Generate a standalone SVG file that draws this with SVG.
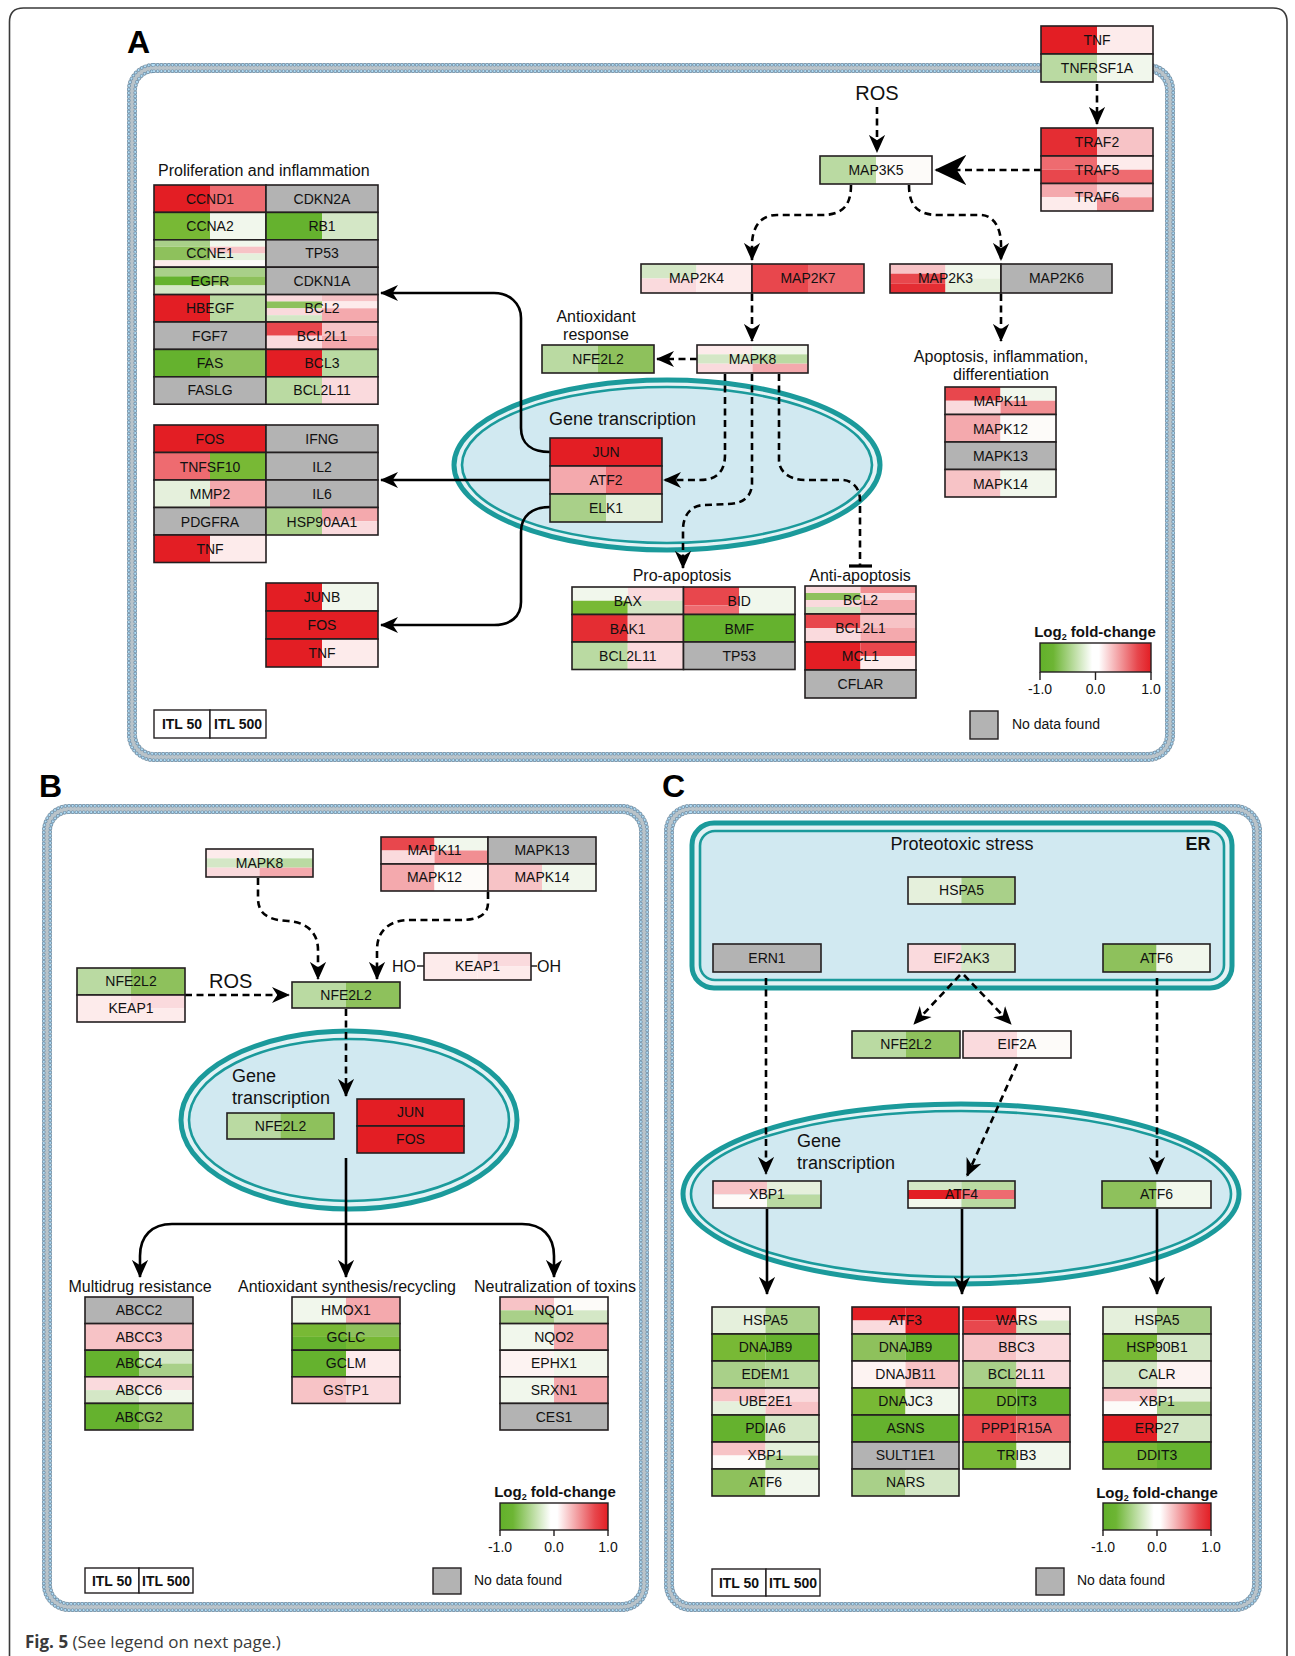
<svg xmlns="http://www.w3.org/2000/svg" width="1295" height="1656" viewBox="0 0 1295 1656">
<defs>
<style>
.box{fill:none;stroke:#231f20;stroke-width:1.6}
.gt{font-family:"Liberation Sans Narrow","Arial Narrow","Liberation Sans",Arial,sans-serif;font-size:14px;text-anchor:middle;fill:#111}
.lab{font-family:"Liberation Sans",Arial,sans-serif;font-size:16px;fill:#111}
.c{text-anchor:middle}
.big{font-family:"Liberation Sans",Arial,sans-serif;font-size:32px;font-weight:bold;fill:#000}
.ros{font-family:"Liberation Sans",Arial,sans-serif;font-size:20px;fill:#111}
.gtx{font-family:"Liberation Sans",Arial,sans-serif;font-size:18px;fill:#111}
.lgt{font-family:"Liberation Sans",Arial,sans-serif;font-size:15px;font-weight:bold;fill:#111;text-anchor:middle}
.tk{font-family:"Liberation Sans",Arial,sans-serif;font-size:14px;fill:#111;text-anchor:middle}
.nd{font-family:"Liberation Sans",Arial,sans-serif;font-size:14px;fill:#111}
.itl{font-family:"Liberation Sans",Arial,sans-serif;font-size:14px;font-weight:bold;fill:#111;text-anchor:middle}
.sol{fill:none;stroke:#000;stroke-width:2.6}
.dsh{fill:none;stroke:#000;stroke-width:2.6;stroke-dasharray:7 4.5}
.mb-base{fill:none;stroke:#b9c3c9;stroke-width:10}
.mb-do{fill:none;stroke:#6a8ca6;stroke-width:3.6;stroke-linecap:round;stroke-dasharray:0 3.7}
.mb-di{fill:none;stroke:#b2dcf4;stroke-width:2.2;stroke-linecap:round;stroke-dasharray:0 3.7}
.nuc-o{fill:#e4f2f5;stroke:#1b9a9b;stroke-width:5}
.nuc-i{fill:#d1e9f1;stroke:#1b9a9b;stroke-width:2.6}
.r1{fill:#e31e24}.r2{fill:#e8474d}.r3{fill:#ee6b70}.r4{fill:#f18e92}
.p1{fill:#f4a9ad}.p2{fill:#f7c3c6}.p3{fill:#fadadd}.p4{fill:#fdebeb}
.w{fill:#fdfbf9}.w2{fill:#fdf3f2}
.g1{fill:#65b22e}.g2{fill:#78b935}.g3{fill:#8ec15c}.g4{fill:#a9d089}
.g5{fill:#badaa2}.g6{fill:#d4e7c6}.g7{fill:#e5f0dc}.g8{fill:#f1f7ec}
.gy{fill:#b3b3b3}
</style>
<linearGradient id="lfc" x1="0" y1="0" x2="1" y2="0">
<stop offset="0" stop-color="#62b02a"/>
<stop offset="0.12" stop-color="#6db534"/>
<stop offset="0.47" stop-color="#ffffff"/>
<stop offset="0.53" stop-color="#ffffff"/>
<stop offset="0.88" stop-color="#e7464c"/>
<stop offset="1" stop-color="#e31e24"/>
</linearGradient>
<marker id="ah" viewBox="0 0 20 20" refX="19" refY="10" markerWidth="18" markerHeight="18" markerUnits="userSpaceOnUse" orient="auto"><path d="M0,1 L20,10 L0,19 L6,10 Z" fill="#000" stroke="none"/></marker>
<marker id="ahb" viewBox="0 0 20 20" refX="19" refY="10" markerWidth="32" markerHeight="34" markerUnits="userSpaceOnUse" orient="auto"><path d="M0,0.5 L20,10 L0,19.5 L6,10 Z" fill="#000" stroke="none"/></marker>
</defs>

<rect x="0" y="0" width="1295" height="1656" fill="#fff"/>
<path d="M9.5,1656 L9.5,22 Q9.5,8 23.5,8 L1273,8 Q1287,8 1287,22 L1287,1656" fill="none" stroke="#3a3a3a" stroke-width="1.6"/>
<text x="25" y="1648" font-family="'Open Sans','Noto Sans',sans-serif" font-size="17" fill="#3a3a3a"><tspan font-weight="bold">Fig. 5</tspan> (See legend on next page.)</text>

<!-- Membranes -->
<g id="membrane-A">
<rect class="mb-base" x="132" y="68" width="1038" height="689" rx="22"/>
<rect class="mb-do" x="128.8" y="64.8" width="1044.4" height="695.4" rx="25.2"/>
<rect class="mb-di" x="128.8" y="64.8" width="1044.4" height="695.4" rx="25.2"/>
<rect class="mb-do" x="135.2" y="71.2" width="1031.6" height="682.6" rx="18.8"/>
<rect class="mb-di" x="135.2" y="71.2" width="1031.6" height="682.6" rx="18.8"/>
</g>
<g id="membrane-B">
<rect class="mb-base" x="47" y="809" width="597" height="798" rx="22"/>
<rect class="mb-do" x="43.8" y="805.8" width="603.4" height="804.4" rx="25.2"/>
<rect class="mb-di" x="43.8" y="805.8" width="603.4" height="804.4" rx="25.2"/>
<rect class="mb-do" x="50.2" y="812.2" width="590.6" height="791.6" rx="18.8"/>
<rect class="mb-di" x="50.2" y="812.2" width="590.6" height="791.6" rx="18.8"/>
</g>
<g id="membrane-C">
<rect class="mb-base" x="669" y="809" width="588" height="798" rx="22"/>
<rect class="mb-do" x="665.8" y="805.8" width="594.4" height="804.4" rx="25.2"/>
<rect class="mb-di" x="665.8" y="805.8" width="594.4" height="804.4" rx="25.2"/>
<rect class="mb-do" x="672.2" y="812.2" width="581.6" height="791.6" rx="18.8"/>
<rect class="mb-di" x="672.2" y="812.2" width="581.6" height="791.6" rx="18.8"/>
</g>

<!-- Compartments -->
<g id="nucleus-A"><ellipse class="nuc-o" cx="667" cy="465" rx="213" ry="85"/><ellipse class="nuc-i" cx="667" cy="465" rx="205" ry="78"/></g>
<g id="nucleus-B"><ellipse class="nuc-o" cx="349" cy="1120" rx="168" ry="89"/><ellipse class="nuc-i" cx="349" cy="1120" rx="160" ry="81"/></g>
<g id="ER-C"><rect class="nuc-o" x="692" y="823" width="540" height="165" rx="22"/><rect class="nuc-i" x="700" y="831" width="524" height="149" rx="15"/></g>
<g id="nucleus-C"><ellipse class="nuc-o" cx="961" cy="1194" rx="278" ry="90"/><ellipse class="nuc-i" cx="961" cy="1194" rx="270" ry="83"/></g>

<!-- Connectors -->
<g id="connectors">
<path class="dsh" d="M877,107 L877,152" marker-end="url(#ah)"/>
<path class="dsh" d="M1097,84 L1097,124" marker-end="url(#ah)"/>
<path class="dsh" d="M1041,170 L936,170" marker-end="url(#ahb)"/>
<path class="dsh" d="M851,185 C851,205 843,215 822,215 L777,215 C760,215 752,228 752,245 L752,260" marker-end="url(#ah)"/>
<path class="dsh" d="M909,185 C909,205 917,215 938,215 L980,215 C994,215 1001,228 1001,245 L1001,260" marker-end="url(#ah)"/>
<path class="dsh" d="M752,294 L752,341" marker-end="url(#ah)"/>
<path class="dsh" d="M1001,294 L1001,341" marker-end="url(#ah)"/>
<path class="dsh" d="M697,359 L657,359" marker-end="url(#ah)"/>
<path class="dsh" d="M725,374 L725,455 C725,472 716,480 700,480 L664,480" marker-end="url(#ah)"/>
<path class="dsh" d="M752,374 L752,483 C752,497 742,504 728,504 L705,505 C692,505 683,514 683,530 L683,568" marker-end="url(#ah)"/>
<path class="dsh" d="M779,374 L779,460 C779,472 790,480 805,480 L842,480 C852,480 860,488 860,500 L860,566"/>
<line x1="849" y1="566" x2="872" y2="566" stroke="#000" stroke-width="3.2"/>
<path class="sol" d="M550,452 C532,452 521,444 521,428 L521,318 C521,303 509,293 494,293 L381,293" marker-end="url(#ah)"/>
<path class="sol" d="M550,480 L381,480" marker-end="url(#ah)"/>
<path class="sol" d="M550,507 C532,507 521,516 521,532 L521,602 C521,617 510,625 494,625 L381,625" marker-end="url(#ah)"/>

<path class="dsh" d="M258,878 L258,898 C258,914 268,920 288,921 C306,922 318,932 318,950 L318,979" marker-end="url(#ah)"/>
<path class="dsh" d="M488,892 L488,903 C488,915 478,920 460,920 L410,920 C390,920 377,930 377,950 L377,979" marker-end="url(#ah)"/>
<path class="dsh" d="M185,995 L289,995" marker-end="url(#ah)"/>
<line x1="417" y1="966" x2="424" y2="966" stroke="#111" stroke-width="1.4"/>
<line x1="531" y1="966" x2="537" y2="966" stroke="#111" stroke-width="1.4"/>
<path class="dsh" d="M346,1009 L346,1096" marker-end="url(#ah)"/>
<path class="sol" d="M346,1158 L346,1277" marker-end="url(#ah)"/>
<path class="sol" d="M346,1224 L172,1224 C152,1224 140,1236 140,1256 L140,1277" marker-end="url(#ah)"/>
<path class="sol" d="M346,1224 L522,1224 C542,1224 554,1236 554,1256 L554,1277" marker-end="url(#ah)"/>

<path class="dsh" d="M960,975 L914,1024" marker-end="url(#ah)"/>
<path class="dsh" d="M964,975 L1011,1024" marker-end="url(#ah)"/>
<path class="dsh" d="M766,978 L766,1174" marker-end="url(#ah)"/>
<path class="dsh" d="M1157,978 L1157,1174" marker-end="url(#ah)"/>
<path class="dsh" d="M1017,1064 L967,1176" marker-end="url(#ah)"/>
<path class="sol" d="M767,1209 L767,1294" marker-end="url(#ah)"/>
<path class="sol" d="M962,1209 L962,1294" marker-end="url(#ah)"/>
<path class="sol" d="M1157,1209 L1157,1294" marker-end="url(#ah)"/>
</g>

<!-- Panel labels and texts -->
<text class="big" x="127" y="53">A</text>
<text class="big" x="39" y="797">B</text>
<text class="big" x="662" y="797">C</text>

<text class="lab" x="158" y="176" font-size="16.5">Proliferation and inflammation</text>
<text class="lab c" x="596" y="322" font-size="16.5">Antioxidant</text>
<text class="lab c" x="596" y="340" font-size="16.5">response</text>
<text class="ros c" x="877" y="100">ROS</text>
<text class="lab c" x="1001" y="362" font-size="16.5">Apoptosis, inflammation,</text>
<text class="lab c" x="1001" y="380" font-size="16.5">differentiation</text>
<text class="gtx" x="549" y="425">Gene transcription</text>
<text class="lab c" x="682" y="581">Pro-apoptosis</text>
<text class="lab c" x="860" y="581">Anti-apoptosis</text>

<text class="ros" x="209" y="988">ROS</text>
<text class="lab" x="416" y="972" text-anchor="end">HO</text>
<text class="lab" x="537" y="972">OH</text>
<text class="gtx" x="232" y="1082">Gene</text>
<text class="gtx" x="232" y="1104">transcription</text>
<text class="lab c" x="140" y="1292">Multidrug resistance</text>
<text class="lab c" x="347" y="1292">Antioxidant synthesis/recycling</text>
<text class="lab c" x="555" y="1292">Neutralization of toxins</text>

<text class="gtx c" x="962" y="850">Proteotoxic stress</text>
<text class="gtx" x="1198" y="850" text-anchor="middle" font-weight="bold">ER</text>
<text class="gtx" x="797" y="1147">Gene</text>
<text class="gtx" x="797" y="1169">transcription</text>

<!-- Panel A genes -->
<g id="A-CCND1"><rect class="r1" x="154" y="185" width="56" height="27.4"/><rect class="r3" x="210" y="185" width="56" height="27.4"/><rect class="box" x="154" y="185" width="112" height="27.4"/><text class="gt" x="210" y="203.5">CCND1</text></g>
<g id="A-CDKN2A"><rect class="gy" x="266" y="185" width="112" height="27.4"/><rect class="box" x="266" y="185" width="112" height="27.4"/><text class="gt" x="322" y="203.5">CDKN2A</text></g>
<g id="A-CCNA2"><rect class="g2" x="154" y="212.4" width="56" height="27.4"/><rect class="g8" x="210" y="212.4" width="56" height="27.4"/><rect class="box" x="154" y="212.4" width="112" height="27.4"/><text class="gt" x="210" y="230.9">CCNA2</text></g>
<g id="A-RB1"><rect class="g1" x="266" y="212.4" width="56" height="27.4"/><rect class="g6" x="322" y="212.4" width="56" height="27.4"/><rect class="box" x="266" y="212.4" width="112" height="27.4"/><text class="gt" x="322" y="230.9">RB1</text></g>
<g id="A-CCNE1"><rect class="g4" x="154" y="239.8" width="56" height="6.85"/><rect class="g3" x="154" y="246.65" width="56" height="13.7"/><rect class="p4" x="154" y="260.35" width="56" height="6.85"/><rect class="g8" x="210" y="239.8" width="56" height="6.85"/><rect class="p2" x="210" y="246.65" width="56" height="6.85"/><rect class="g7" x="210" y="253.5" width="56" height="6.85"/><rect class="w" x="210" y="260.35" width="56" height="6.85"/><rect class="box" x="154" y="239.8" width="112" height="27.4"/><text class="gt" x="210" y="258.3">CCNE1</text></g>
<g id="A-TP53"><rect class="gy" x="266" y="239.8" width="112" height="27.4"/><rect class="box" x="266" y="239.8" width="112" height="27.4"/><text class="gt" x="322" y="258.3">TP53</text></g>
<g id="A-EGFR"><rect class="g4" x="154" y="267.2" width="56" height="9.13"/><rect class="g1" x="154" y="276.33" width="56" height="9.14"/><rect class="g6" x="154" y="285.47" width="56" height="9.13"/><rect class="g4" x="210" y="267.2" width="56" height="9.13"/><rect class="g3" x="210" y="276.33" width="56" height="9.14"/><rect class="g6" x="210" y="285.47" width="56" height="9.13"/><rect class="box" x="154" y="267.2" width="112" height="27.4"/><text class="gt" x="210" y="285.7">EGFR</text></g>
<g id="A-CDKN1A"><rect class="gy" x="266" y="267.2" width="112" height="27.4"/><rect class="box" x="266" y="267.2" width="112" height="27.4"/><text class="gt" x="322" y="285.7">CDKN1A</text></g>
<g id="A-HBEGF"><rect class="r1" x="154" y="294.6" width="56" height="27.4"/><rect class="g5" x="210" y="294.6" width="56" height="27.4"/><rect class="box" x="154" y="294.6" width="112" height="27.4"/><text class="gt" x="210" y="313.1">HBEGF</text></g>
<g id="A-BCL2-p"><rect class="p3" x="266" y="294.6" width="56" height="6.85"/><rect class="g3" x="266" y="301.45" width="56" height="6.85"/><rect class="p3" x="266" y="308.3" width="56" height="6.85"/><rect class="g6" x="266" y="315.15" width="56" height="6.85"/><rect class="p2" x="322" y="294.6" width="56" height="6.85"/><rect class="p4" x="322" y="301.45" width="56" height="6.85"/><rect class="p1" x="322" y="308.3" width="56" height="13.7"/><rect class="box" x="266" y="294.6" width="112" height="27.4"/><text class="gt" x="322" y="313.1">BCL2</text></g>
<g id="A-FGF7"><rect class="gy" x="154" y="322" width="112" height="27.4"/><rect class="box" x="154" y="322" width="112" height="27.4"/><text class="gt" x="210" y="340.5">FGF7</text></g>
<g id="A-BCL2L1-p"><rect class="r2" x="266" y="322" width="56" height="13.7"/><rect class="p3" x="266" y="335.7" width="56" height="13.7"/><rect class="p2" x="322" y="322" width="56" height="13.7"/><rect class="p1" x="322" y="335.7" width="56" height="13.7"/><rect class="box" x="266" y="322" width="112" height="27.4"/><text class="gt" x="322" y="340.5">BCL2L1</text></g>
<g id="A-FAS"><rect class="g1" x="154" y="349.4" width="56" height="27.4"/><rect class="g3" x="210" y="349.4" width="56" height="27.4"/><rect class="box" x="154" y="349.4" width="112" height="27.4"/><text class="gt" x="210" y="367.9">FAS</text></g>
<g id="A-BCL3"><rect class="r1" x="266" y="349.4" width="56" height="27.4"/><rect class="g5" x="322" y="349.4" width="56" height="27.4"/><rect class="box" x="266" y="349.4" width="112" height="27.4"/><text class="gt" x="322" y="367.9">BCL3</text></g>
<g id="A-FASLG"><rect class="gy" x="154" y="376.8" width="112" height="27.4"/><rect class="box" x="154" y="376.8" width="112" height="27.4"/><text class="gt" x="210" y="395.3">FASLG</text></g>
<g id="A-BCL2L11-p"><rect class="g5" x="266" y="376.8" width="56" height="27.4"/><rect class="p3" x="322" y="376.8" width="56" height="27.4"/><rect class="box" x="266" y="376.8" width="112" height="27.4"/><text class="gt" x="322" y="395.3">BCL2L11</text></g>

<g id="A-FOS"><rect class="r1" x="154" y="425" width="112" height="27.5"/><rect class="box" x="154" y="425" width="112" height="27.5"/><text class="gt" x="210" y="444">FOS</text></g>
<g id="A-IFNG"><rect class="gy" x="266" y="425" width="112" height="27.5"/><rect class="box" x="266" y="425" width="112" height="27.5"/><text class="gt" x="322" y="444">IFNG</text></g>
<g id="A-TNFSF10"><rect class="r3" x="154" y="452.5" width="56" height="27.5"/><rect class="g2" x="210" y="452.5" width="56" height="27.5"/><rect class="box" x="154" y="452.5" width="112" height="27.5"/><text class="gt" x="210" y="471.5">TNFSF10</text></g>
<g id="A-IL2"><rect class="gy" x="266" y="452.5" width="112" height="27.5"/><rect class="box" x="266" y="452.5" width="112" height="27.5"/><text class="gt" x="322" y="471.5">IL2</text></g>
<g id="A-MMP2"><rect class="g7" x="154" y="480" width="56" height="27.5"/><rect class="p1" x="210" y="480" width="56" height="27.5"/><rect class="box" x="154" y="480" width="112" height="27.5"/><text class="gt" x="210" y="499">MMP2</text></g>
<g id="A-IL6"><rect class="gy" x="266" y="480" width="112" height="27.5"/><rect class="box" x="266" y="480" width="112" height="27.5"/><text class="gt" x="322" y="499">IL6</text></g>
<g id="A-PDGFRA"><rect class="gy" x="154" y="507.5" width="112" height="27.5"/><rect class="box" x="154" y="507.5" width="112" height="27.5"/><text class="gt" x="210" y="526.5">PDGFRA</text></g>
<g id="A-HSP90AA1"><rect class="g4" x="266" y="507.5" width="56" height="27.5"/><rect class="p1" x="322" y="507.5" width="56" height="13.75"/><rect class="p3" x="322" y="521.25" width="56" height="13.75"/><rect class="box" x="266" y="507.5" width="112" height="27.5"/><text class="gt" x="322" y="526.5">HSP90AA1</text></g>
<g id="A-TNF2"><rect class="r1" x="154" y="535" width="56" height="27.5"/><rect class="p4" x="210" y="535" width="56" height="27.5"/><rect class="box" x="154" y="535" width="112" height="27.5"/><text class="gt" x="210" y="554">TNF</text></g>

<g id="A-JUNB"><rect class="r1" x="266" y="583" width="56" height="28"/><rect class="g8" x="322" y="583" width="56" height="28"/><rect class="box" x="266" y="583" width="112" height="28"/><text class="gt" x="322" y="601.8">JUNB</text></g>
<g id="A-FOS3"><rect class="r1" x="266" y="611" width="112" height="28"/><rect class="box" x="266" y="611" width="112" height="28"/><text class="gt" x="322" y="629.8">FOS</text></g>
<g id="A-TNF3"><rect class="r1" x="266" y="639" width="56" height="28"/><rect class="p4" x="322" y="639" width="56" height="28"/><rect class="box" x="266" y="639" width="112" height="28"/><text class="gt" x="322" y="657.8">TNF</text></g>

<g id="A-JUN"><rect class="r1" x="550" y="438" width="112" height="28"/><rect class="box" x="550" y="438" width="112" height="28"/><text class="gt" x="606" y="456.8">JUN</text></g>
<g id="A-ATF2"><rect class="p1" x="550" y="466" width="56" height="28"/><rect class="r3" x="606" y="466" width="56" height="28"/><rect class="box" x="550" y="466" width="112" height="28"/><text class="gt" x="606" y="484.8">ATF2</text></g>
<g id="A-ELK1"><rect class="g4" x="550" y="494" width="56" height="28"/><rect class="g7" x="606" y="494" width="56" height="28"/><rect class="box" x="550" y="494" width="112" height="28"/><text class="gt" x="606" y="512.8">ELK1</text></g>

<g id="A-MAPK8"><rect class="p4" x="697" y="345" width="55.5" height="9.33"/><rect class="g6" x="697" y="354.33" width="55.5" height="9.34"/><rect class="p3" x="697" y="363.67" width="55.5" height="9.33"/><rect class="g8" x="752.5" y="345" width="55.5" height="9.33"/><rect class="g5" x="752.5" y="354.33" width="55.5" height="9.34"/><rect class="p1" x="752.5" y="363.67" width="55.5" height="9.33"/><rect class="box" x="697" y="345" width="111" height="28"/><text class="gt" x="752.5" y="363.8">MAPK8</text></g>
<g id="A-NFE2L2"><rect class="g5" x="542" y="345" width="56" height="28"/><rect class="g3" x="598" y="345" width="56" height="28"/><rect class="box" x="542" y="345" width="112" height="28"/><text class="gt" x="598" y="363.8">NFE2L2</text></g>
<g id="A-MAP3K5"><rect class="g5" x="820" y="156" width="56" height="28"/><rect class="w" x="876" y="156" width="56" height="28"/><rect class="box" x="820" y="156" width="112" height="28"/><text class="gt" x="876" y="174.8">MAP3K5</text></g>
<g id="A-TNF"><rect class="r1" x="1041" y="26" width="56" height="28"/><rect class="p4" x="1097" y="26" width="56" height="28"/><rect class="box" x="1041" y="26" width="112" height="28"/><text class="gt" x="1097" y="44.8">TNF</text></g>
<g id="A-TNFRSF1A"><rect class="g5" x="1041" y="54" width="56" height="28"/><rect class="g8" x="1097" y="54" width="56" height="28"/><rect class="box" x="1041" y="54" width="112" height="28"/><text class="gt" x="1097" y="72.8">TNFRSF1A</text></g>
<g id="A-TRAF2"><rect fill="#e42d33" x="1041" y="128" width="56" height="28"/><rect class="p2" x="1097" y="128" width="56" height="28"/><rect class="box" x="1041" y="128" width="112" height="28"/><text class="gt" x="1097" y="146.8">TRAF2</text></g>
<g id="A-TRAF5"><rect class="r3" x="1041" y="156" width="56" height="13.75"/><rect class="r2" x="1041" y="169.75" width="56" height="13.75"/><rect class="p4" x="1097" y="156" width="56" height="13.75"/><rect class="r3" x="1097" y="169.75" width="56" height="13.75"/><rect class="box" x="1041" y="156" width="112" height="27.5"/><text class="gt" x="1097" y="174.5">TRAF5</text></g>
<g id="A-TRAF6"><rect class="p1" x="1041" y="183.5" width="56" height="13.75"/><rect class="p4" x="1041" y="197.25" width="56" height="13.75"/><rect class="p3" x="1097" y="183.5" width="56" height="13.75"/><rect class="r4" x="1097" y="197.25" width="56" height="13.75"/><rect class="box" x="1041" y="183.5" width="112" height="27.5"/><text class="gt" x="1097" y="202">TRAF6</text></g>
<g id="A-MAP2K4"><rect class="g6" x="641" y="264" width="55.5" height="14.5"/><rect class="p3" x="641" y="278.5" width="55.5" height="14.5"/><rect class="p4" x="696.5" y="264" width="55.5" height="29"/><rect class="box" x="641" y="264" width="111" height="29"/><text class="gt" x="696.5" y="283.3">MAP2K4</text></g>
<g id="A-MAP2K7"><rect class="r2" x="752" y="264" width="56" height="29"/><rect class="r3" x="808" y="264" width="56" height="29"/><rect class="box" x="752" y="264" width="112" height="29"/><text class="gt" x="808" y="283.3">MAP2K7</text></g>
<g id="A-MAP2K3"><rect class="p2" x="890" y="264" width="55.5" height="9.67"/><rect class="r2" x="890" y="273.67" width="55.5" height="9.66"/><rect fill="#e42d33" x="890" y="283.33" width="55.5" height="9.67"/><rect class="g8" x="945.5" y="264" width="55.5" height="14.5"/><rect class="g7" x="945.5" y="278.5" width="55.5" height="14.5"/><rect class="box" x="890" y="264" width="111" height="29"/><text class="gt" x="945.5" y="283.3">MAP2K3</text></g>
<g id="A-MAP2K6"><rect class="gy" x="1001" y="264" width="111" height="29"/><rect class="box" x="1001" y="264" width="111" height="29"/><text class="gt" x="1056.5" y="283.3">MAP2K6</text></g>
<g id="A-MAPK11"><rect class="r2" x="945" y="387" width="55.5" height="13.75"/><rect class="p3" x="945" y="400.75" width="55.5" height="13.75"/><rect class="g8" x="1000.5" y="387" width="55.5" height="13.75"/><rect class="r4" x="1000.5" y="400.75" width="55.5" height="13.75"/><rect class="box" x="945" y="387" width="111" height="27.5"/><text class="gt" x="1000.5" y="406">MAPK11</text></g>
<g id="A-MAPK12"><rect class="p1" x="945" y="414.5" width="55.5" height="27.5"/><rect class="w" x="1000.5" y="414.5" width="55.5" height="27.5"/><rect class="box" x="945" y="414.5" width="111" height="27.5"/><text class="gt" x="1000.5" y="433.5">MAPK12</text></g>
<g id="A-MAPK13"><rect class="gy" x="945" y="442" width="111" height="27.5"/><rect class="box" x="945" y="442" width="111" height="27.5"/><text class="gt" x="1000.5" y="461">MAPK13</text></g>
<g id="A-MAPK14"><rect class="p2" x="945" y="469.5" width="55.5" height="27.5"/><rect class="g8" x="1000.5" y="469.5" width="55.5" height="27.5"/><rect class="box" x="945" y="469.5" width="111" height="27.5"/><text class="gt" x="1000.5" y="488.5">MAPK14</text></g>

<g id="A-BAX"><rect class="g8" x="572" y="587" width="55.75" height="13.75"/><rect class="g2" x="572" y="600.75" width="55.75" height="13.75"/><rect class="p3" x="627.75" y="587" width="55.75" height="13.75"/><rect class="g6" x="627.75" y="600.75" width="55.75" height="13.75"/><rect class="box" x="572" y="587" width="111.5" height="27.5"/><text class="gt" x="627.75" y="606">BAX</text></g>
<g id="A-BID"><rect class="r2" x="683.5" y="587" width="55.75" height="18.33"/><rect class="r3" x="683.5" y="605.33" width="55.75" height="9.17"/><rect class="g8" x="739.25" y="587" width="55.75" height="27.5"/><rect class="box" x="683.5" y="587" width="111.5" height="27.5"/><text class="gt" x="739.25" y="606">BID</text></g>
<g id="A-BAK1"><rect fill="#e42d33" x="572" y="614.5" width="55.75" height="27.5"/><rect class="p2" x="627.75" y="614.5" width="55.75" height="27.5"/><rect class="box" x="572" y="614.5" width="111.5" height="27.5"/><text class="gt" x="627.75" y="633.5">BAK1</text></g>
<g id="A-BMF"><rect class="g1" x="683.5" y="614.5" width="111.5" height="27.5"/><rect class="box" x="683.5" y="614.5" width="111.5" height="27.5"/><text class="gt" x="739.25" y="633.5">BMF</text></g>
<g id="A-BCL2L11-a"><rect class="g5" x="572" y="642" width="55.75" height="27.5"/><rect class="p3" x="627.75" y="642" width="55.75" height="27.5"/><rect class="box" x="572" y="642" width="111.5" height="27.5"/><text class="gt" x="627.75" y="661">BCL2L11</text></g>
<g id="A-TP53-a"><rect class="gy" x="683.5" y="642" width="111.5" height="27.5"/><rect class="box" x="683.5" y="642" width="111.5" height="27.5"/><text class="gt" x="739.25" y="661">TP53</text></g>

<g id="A-BCL2-a"><rect class="p3" x="805" y="586" width="55.5" height="7"/><rect class="g3" x="805" y="593" width="55.5" height="7"/><rect class="p3" x="805" y="600" width="55.5" height="7"/><rect class="g6" x="805" y="607" width="55.5" height="7"/><rect class="r4" x="860.5" y="586" width="55.5" height="7"/><rect class="p3" x="860.5" y="593" width="55.5" height="7"/><rect class="p1" x="860.5" y="600" width="55.5" height="14"/><rect class="box" x="805" y="586" width="111" height="28"/><text class="gt" x="860.5" y="604.8">BCL2</text></g>
<g id="A-BCL2L1-a"><rect class="r2" x="805" y="614" width="55.5" height="14"/><rect class="p3" x="805" y="628" width="55.5" height="14"/><rect class="p2" x="860.5" y="614" width="55.5" height="14"/><rect class="p1" x="860.5" y="628" width="55.5" height="14"/><rect class="box" x="805" y="614" width="111" height="28"/><text class="gt" x="860.5" y="632.8">BCL2L1</text></g>
<g id="A-MCL1"><rect class="r1" x="805" y="642" width="55.5" height="28"/><rect class="r2" x="860.5" y="642" width="55.5" height="14"/><rect class="p4" x="860.5" y="656" width="55.5" height="14"/><rect class="box" x="805" y="642" width="111" height="28"/><text class="gt" x="860.5" y="660.8">MCL1</text></g>
<g id="A-CFLAR"><rect class="gy" x="805" y="670" width="111" height="28"/><rect class="box" x="805" y="670" width="111" height="28"/><text class="gt" x="860.5" y="688.8">CFLAR</text></g>

<g id="A-legend">
<text class="lgt" x="1095" y="637">Log<tspan font-size="9" dy="3">2</tspan><tspan dy="-3"> fold-change</tspan></text>
<rect x="1040" y="643" width="111" height="29" fill="url(#lfc)" stroke="#231f20" stroke-width="1.4"/>
<path d="M1040,672 V680 M1095.5,672 V680 M1151,672 V680" stroke="#231f20" stroke-width="1.4"/>
<text class="tk" x="1040" y="694">-1.0</text><text class="tk" x="1095.5" y="694">0.0</text><text class="tk" x="1151" y="694">1.0</text>
<rect class="gy" x="970" y="711" width="28" height="28" stroke="#231f20" stroke-width="1.4"/>
<text class="nd" x="1012" y="729">No data found</text>
<rect x="154" y="710" width="56" height="28" fill="#fff" stroke="#231f20" stroke-width="1.4"/><rect x="210" y="710" width="56" height="28" fill="#fff" stroke="#231f20" stroke-width="1.4"/>
<text class="itl" x="182" y="729">ITL 50</text><text class="itl" x="238" y="729">ITL 500</text>
</g>

<!-- Panel B genes -->
<g id="B-MAPK8"><rect class="p4" x="206" y="849" width="53.5" height="9.33"/><rect class="g6" x="206" y="858.33" width="53.5" height="9.34"/><rect class="p3" x="206" y="867.67" width="53.5" height="9.33"/><rect class="g8" x="259.5" y="849" width="53.5" height="9.33"/><rect class="g5" x="259.5" y="858.33" width="53.5" height="9.34"/><rect class="p1" x="259.5" y="867.67" width="53.5" height="9.33"/><rect class="box" x="206" y="849" width="107" height="28"/><text class="gt" x="259.5" y="867.8">MAPK8</text></g>
<g id="B-MAPK11"><rect class="r2" x="381" y="837" width="53.5" height="13.5"/><rect class="p3" x="381" y="850.5" width="53.5" height="13.5"/><rect class="g8" x="434.5" y="837" width="53.5" height="13.5"/><rect class="r4" x="434.5" y="850.5" width="53.5" height="13.5"/><rect class="box" x="381" y="837" width="107" height="27"/><text class="gt" x="434.5" y="855.3">MAPK11</text></g>
<g id="B-MAPK13"><rect class="gy" x="488" y="837" width="108" height="27"/><rect class="box" x="488" y="837" width="108" height="27"/><text class="gt" x="542" y="855.3">MAPK13</text></g>
<g id="B-MAPK12"><rect class="p1" x="381" y="864" width="53.5" height="27"/><rect class="w" x="434.5" y="864" width="53.5" height="27"/><rect class="box" x="381" y="864" width="107" height="27"/><text class="gt" x="434.5" y="882.3">MAPK12</text></g>
<g id="B-MAPK14"><rect class="p2" x="488" y="864" width="54" height="27"/><rect class="g8" x="542" y="864" width="54" height="27"/><rect class="box" x="488" y="864" width="108" height="27"/><text class="gt" x="542" y="882.3">MAPK14</text></g>
<g id="B-KEAP1-ox"><rect class="p4" x="424" y="953" width="53.5" height="27"/><rect class="p3" x="477.5" y="953" width="53.5" height="13.5"/><rect class="p4" x="477.5" y="966.5" width="53.5" height="13.5"/><rect class="box" x="424" y="953" width="107" height="27"/><text class="gt" x="477.5" y="971.3">KEAP1</text></g>
<g id="B-NFE2L2-free"><rect class="g5" x="292" y="982" width="54" height="26"/><rect class="g3" x="346" y="982" width="54" height="26"/><rect class="box" x="292" y="982" width="108" height="26"/><text class="gt" x="346" y="999.8">NFE2L2</text></g>
<g id="B-NFE2L2-bound"><rect class="g5" x="77" y="968" width="54" height="27"/><rect class="g3" x="131" y="968" width="54" height="27"/><rect class="box" x="77" y="968" width="108" height="27"/><text class="gt" x="131" y="986.3">NFE2L2</text></g>
<g id="B-KEAP1-bound"><rect class="p4" x="77" y="995" width="54" height="27"/><rect class="p3" x="131" y="995" width="54" height="13.5"/><rect class="p4" x="131" y="1008.5" width="54" height="13.5"/><rect class="box" x="77" y="995" width="108" height="27"/><text class="gt" x="131" y="1013.3">KEAP1</text></g>
<g id="B-NFE2L2-nuc"><rect class="g5" x="227" y="1113" width="53.5" height="26"/><rect class="g3" x="280.5" y="1113" width="53.5" height="26"/><rect class="box" x="227" y="1113" width="107" height="26"/><text class="gt" x="280.5" y="1130.8">NFE2L2</text></g>
<g id="B-JUN"><rect class="r1" x="357" y="1099" width="107" height="27"/><rect class="box" x="357" y="1099" width="107" height="27"/><text class="gt" x="410.5" y="1117.3">JUN</text></g>
<g id="B-FOS"><rect class="r1" x="357" y="1126" width="107" height="27"/><rect class="box" x="357" y="1126" width="107" height="27"/><text class="gt" x="410.5" y="1144.3">FOS</text></g>

<g id="B-ABCC2"><rect class="gy" x="85" y="1297" width="108" height="26.6"/><rect class="box" x="85" y="1297" width="108" height="26.6"/><text class="gt" x="139" y="1315.1">ABCC2</text></g>
<g id="B-ABCC3"><rect class="p2" x="85" y="1323.6" width="108" height="26.6"/><rect class="box" x="85" y="1323.6" width="108" height="26.6"/><text class="gt" x="139" y="1341.7">ABCC3</text></g>
<g id="B-ABCC4"><rect class="g1" x="85" y="1350.2" width="54" height="26.6"/><rect class="g6" x="139" y="1350.2" width="54" height="13.3"/><rect class="g4" x="139" y="1363.5" width="54" height="13.3"/><rect class="box" x="85" y="1350.2" width="108" height="26.6"/><text class="gt" x="139" y="1368.3">ABCC4</text></g>
<g id="B-ABCC6"><rect class="p3" x="85" y="1376.8" width="54" height="13.3"/><rect class="g6" x="85" y="1390.1" width="54" height="13.3"/><rect class="p3" x="139" y="1376.8" width="54" height="13.3"/><rect class="g8" x="139" y="1390.1" width="54" height="13.3"/><rect class="box" x="85" y="1376.8" width="108" height="26.6"/><text class="gt" x="139" y="1394.9">ABCC6</text></g>
<g id="B-ABCG2"><rect class="g1" x="85" y="1403.4" width="54" height="26.6"/><rect class="g3" x="139" y="1403.4" width="54" height="26.6"/><rect class="box" x="85" y="1403.4" width="108" height="26.6"/><text class="gt" x="139" y="1421.5">ABCG2</text></g>

<g id="B-HMOX1"><rect class="g8" x="292" y="1297" width="54" height="26.6"/><rect class="p1" x="346" y="1297" width="54" height="26.6"/><rect class="box" x="292" y="1297" width="108" height="26.6"/><text class="gt" x="346" y="1315.1">HMOX1</text></g>
<g id="B-GCLC"><rect class="g2" x="292" y="1323.6" width="54" height="13.3"/><rect class="g1" x="292" y="1336.9" width="54" height="13.3"/><rect class="g3" x="346" y="1323.6" width="54" height="13.3"/><rect class="g2" x="346" y="1336.9" width="54" height="13.3"/><rect class="box" x="292" y="1323.6" width="108" height="26.6"/><text class="gt" x="346" y="1341.7">GCLC</text></g>
<g id="B-GCLM"><rect class="g1" x="292" y="1350.2" width="54" height="26.6"/><rect class="p4" x="346" y="1350.2" width="54" height="26.6"/><rect class="box" x="292" y="1350.2" width="108" height="26.6"/><text class="gt" x="346" y="1368.3">GCLM</text></g>
<g id="B-GSTP1"><rect class="p2" x="292" y="1376.8" width="54" height="26.6"/><rect class="p3" x="346" y="1376.8" width="54" height="26.6"/><rect class="box" x="292" y="1376.8" width="108" height="26.6"/><text class="gt" x="346" y="1394.9">GSTP1</text></g>

<g id="B-NQO1"><rect class="p2" x="500" y="1297" width="54" height="13.3"/><rect class="g4" x="500" y="1310.3" width="54" height="13.3"/><rect class="w" x="554" y="1297" width="54" height="13.3"/><rect class="g6" x="554" y="1310.3" width="54" height="13.3"/><rect class="box" x="500" y="1297" width="108" height="26.6"/><text class="gt" x="554" y="1315.1">NQO1</text></g>
<g id="B-NQO2"><rect class="g8" x="500" y="1323.6" width="54" height="26.6"/><rect class="p1" x="554" y="1323.6" width="54" height="26.6"/><rect class="box" x="500" y="1323.6" width="108" height="26.6"/><text class="gt" x="554" y="1341.7">NQO2</text></g>
<g id="B-EPHX1"><rect class="w2" x="500" y="1350.2" width="54" height="26.6"/><rect class="g8" x="554" y="1350.2" width="54" height="26.6"/><rect class="box" x="500" y="1350.2" width="108" height="26.6"/><text class="gt" x="554" y="1368.3">EPHX1</text></g>
<g id="B-SRXN1"><rect class="g8" x="500" y="1376.8" width="54" height="26.6"/><rect class="p1" x="554" y="1376.8" width="54" height="26.6"/><rect class="box" x="500" y="1376.8" width="108" height="26.6"/><text class="gt" x="554" y="1394.9">SRXN1</text></g>
<g id="B-CES1"><rect class="gy" x="500" y="1403.4" width="108" height="26.6"/><rect class="box" x="500" y="1403.4" width="108" height="26.6"/><text class="gt" x="554" y="1421.5">CES1</text></g>

<g id="B-legend">
<text class="lgt" x="555" y="1497">Log<tspan font-size="9" dy="3">2</tspan><tspan dy="-3"> fold-change</tspan></text>
<rect x="500" y="1503" width="108" height="27" fill="url(#lfc)" stroke="#231f20" stroke-width="1.4"/>
<path d="M500,1530 V1536 M554,1530 V1536 M608,1530 V1536" stroke="#231f20" stroke-width="1.4"/>
<text class="tk" x="500" y="1552">-1.0</text><text class="tk" x="554" y="1552">0.0</text><text class="tk" x="608" y="1552">1.0</text>
<rect class="gy" x="433" y="1568" width="28" height="26" stroke="#231f20" stroke-width="1.4"/>
<text class="nd" x="474" y="1585">No data found</text>
<rect x="85" y="1568" width="54" height="25" fill="#fff" stroke="#231f20" stroke-width="1.4"/><rect x="139" y="1568" width="54" height="25" fill="#fff" stroke="#231f20" stroke-width="1.4"/>
<text class="itl" x="112" y="1585.5">ITL 50</text><text class="itl" x="166" y="1585.5">ITL 500</text>
</g>

<!-- Panel C genes -->
<g id="C-HSPA5-er"><rect class="g7" x="908" y="877" width="53.5" height="27"/><rect class="g4" x="961.5" y="877" width="53.5" height="27"/><rect class="box" x="908" y="877" width="107" height="27"/><text class="gt" x="961.5" y="895.3">HSPA5</text></g>
<g id="C-ERN1"><rect class="gy" x="713" y="944" width="108" height="28"/><rect class="box" x="713" y="944" width="108" height="28"/><text class="gt" x="767" y="962.8">ERN1</text></g>
<g id="C-EIF2AK3"><rect class="p3" x="908" y="944" width="53.5" height="28"/><rect class="g6" x="961.5" y="944" width="53.5" height="28"/><rect class="box" x="908" y="944" width="107" height="28"/><text class="gt" x="961.5" y="962.8">EIF2AK3</text></g>
<g id="C-ATF6-er"><rect class="g3" x="1103" y="944" width="53.5" height="28"/><rect class="g8" x="1156.5" y="944" width="53.5" height="28"/><rect class="box" x="1103" y="944" width="107" height="28"/><text class="gt" x="1156.5" y="962.8">ATF6</text></g>
<g id="C-NFE2L2"><rect class="g5" x="852" y="1031" width="54" height="27"/><rect class="g3" x="906" y="1031" width="54" height="27"/><rect class="box" x="852" y="1031" width="108" height="27"/><text class="gt" x="906" y="1049.3">NFE2L2</text></g>
<g id="C-EIF2A"><rect class="p3" x="963" y="1031" width="54" height="27"/><rect class="w" x="1017" y="1031" width="54" height="27"/><rect class="box" x="963" y="1031" width="108" height="27"/><text class="gt" x="1017" y="1049.3">EIF2A</text></g>
<g id="C-XBP1-nuc"><rect class="p2" x="713" y="1181" width="54" height="13.5"/><rect class="w" x="713" y="1194.5" width="54" height="13.5"/><rect class="g7" x="767" y="1181" width="54" height="13.5"/><rect class="g5" x="767" y="1194.5" width="54" height="13.5"/><rect class="box" x="713" y="1181" width="108" height="27"/><text class="gt" x="767" y="1199.3">XBP1</text></g>
<g id="C-ATF4"><rect class="g6" x="908" y="1181" width="53.5" height="9"/><rect class="r1" x="908" y="1190" width="53.5" height="9"/><rect class="g8" x="908" y="1199" width="53.5" height="9"/><rect class="g5" x="961.5" y="1181" width="53.5" height="9"/><rect class="r3" x="961.5" y="1190" width="53.5" height="9"/><rect class="g5" x="961.5" y="1199" width="53.5" height="9"/><rect class="box" x="908" y="1181" width="107" height="27"/><text class="gt" x="961.5" y="1199.3">ATF4</text></g>
<g id="C-ATF6-nuc"><rect class="g3" x="1102" y="1181" width="54.5" height="27"/><rect class="g8" x="1156.5" y="1181" width="54.5" height="27"/><rect class="box" x="1102" y="1181" width="109" height="27"/><text class="gt" x="1156.5" y="1199.3">ATF6</text></g>

<g id="C-c1-HSPA5"><rect class="g7" x="712" y="1307" width="53.5" height="27"/><rect class="g4" x="765.5" y="1307" width="53.5" height="27"/><rect class="box" x="712" y="1307" width="107" height="27"/><text class="gt" x="765.5" y="1325.3">HSPA5</text></g>
<g id="C-c1-DNAJB9"><rect class="g2" x="712" y="1334" width="53.5" height="27"/><rect class="g1" x="765.5" y="1334" width="53.5" height="27"/><rect class="box" x="712" y="1334" width="107" height="27"/><text class="gt" x="765.5" y="1352.3">DNAJB9</text></g>
<g id="C-c1-EDEM1"><rect class="g4" x="712" y="1361" width="53.5" height="27"/><rect class="g5" x="765.5" y="1361" width="53.5" height="27"/><rect class="box" x="712" y="1361" width="107" height="27"/><text class="gt" x="765.5" y="1379.3">EDEM1</text></g>
<g id="C-c1-UBE2E1"><rect class="p2" x="712" y="1388" width="53.5" height="13.5"/><rect class="g7" x="712" y="1401.5" width="53.5" height="13.5"/><rect class="p3" x="765.5" y="1388" width="53.5" height="13.5"/><rect class="p2" x="765.5" y="1401.5" width="53.5" height="13.5"/><rect class="box" x="712" y="1388" width="107" height="27"/><text class="gt" x="765.5" y="1406.3">UBE2E1</text></g>
<g id="C-c1-PDIA6"><rect class="g1" x="712" y="1415" width="53.5" height="27"/><rect class="g6" x="765.5" y="1415" width="53.5" height="27"/><rect class="box" x="712" y="1415" width="107" height="27"/><text class="gt" x="765.5" y="1433.3">PDIA6</text></g>
<g id="C-c1-XBP1"><rect class="p2" x="712" y="1442" width="53.5" height="13.5"/><rect class="w" x="712" y="1455.5" width="53.5" height="13.5"/><rect class="g7" x="765.5" y="1442" width="53.5" height="13.5"/><rect class="g4" x="765.5" y="1455.5" width="53.5" height="13.5"/><rect class="box" x="712" y="1442" width="107" height="27"/><text class="gt" x="765.5" y="1460.3">XBP1</text></g>
<g id="C-c1-ATF6"><rect class="g3" x="712" y="1469" width="53.5" height="27"/><rect class="g8" x="765.5" y="1469" width="53.5" height="27"/><rect class="box" x="712" y="1469" width="107" height="27"/><text class="gt" x="765.5" y="1487.3">ATF6</text></g>

<g id="C-c2-ATF3"><rect class="r1" x="852" y="1307" width="53.5" height="13.5"/><rect class="p3" x="852" y="1320.5" width="53.5" height="13.5"/><rect class="r1" x="905.5" y="1307" width="53.5" height="27"/><rect class="box" x="852" y="1307" width="107" height="27"/><text class="gt" x="905.5" y="1325.3">ATF3</text></g>
<g id="C-c2-DNAJB9"><rect class="g3" x="852" y="1334" width="53.5" height="27"/><rect class="g1" x="905.5" y="1334" width="53.5" height="27"/><rect class="box" x="852" y="1334" width="107" height="27"/><text class="gt" x="905.5" y="1352.3">DNAJB9</text></g>
<g id="C-c2-DNAJB11"><rect class="w2" x="852" y="1361" width="53.5" height="27"/><rect class="p2" x="905.5" y="1361" width="53.5" height="27"/><rect class="box" x="852" y="1361" width="107" height="27"/><text class="gt" x="905.5" y="1379.3">DNAJB11</text></g>
<g id="C-c2-DNAJC3"><rect class="g2" x="852" y="1388" width="53.5" height="27"/><rect class="g8" x="905.5" y="1388" width="53.5" height="27"/><rect class="box" x="852" y="1388" width="107" height="27"/><text class="gt" x="905.5" y="1406.3">DNAJC3</text></g>
<g id="C-c2-ASNS"><rect class="g1" x="852" y="1415" width="107" height="27"/><rect class="box" x="852" y="1415" width="107" height="27"/><text class="gt" x="905.5" y="1433.3">ASNS</text></g>
<g id="C-c2-SULT1E1"><rect class="gy" x="852" y="1442" width="107" height="27"/><rect class="box" x="852" y="1442" width="107" height="27"/><text class="gt" x="905.5" y="1460.3">SULT1E1</text></g>
<g id="C-c2-NARS"><rect class="g4" x="852" y="1469" width="53.5" height="27"/><rect class="g6" x="905.5" y="1469" width="53.5" height="27"/><rect class="box" x="852" y="1469" width="107" height="27"/><text class="gt" x="905.5" y="1487.3">NARS</text></g>

<g id="C-c3-WARS"><rect class="r1" x="963" y="1307" width="53.5" height="13.5"/><rect class="r2" x="963" y="1320.5" width="53.5" height="13.5"/><rect class="w2" x="1016.5" y="1307" width="53.5" height="13.5"/><rect class="g6" x="1016.5" y="1320.5" width="53.5" height="13.5"/><rect class="box" x="963" y="1307" width="107" height="27"/><text class="gt" x="1016.5" y="1325.3">WARS</text></g>
<g id="C-c3-BBC3"><rect class="p2" x="963" y="1334" width="53.5" height="27"/><rect class="p3" x="1016.5" y="1334" width="53.5" height="27"/><rect class="box" x="963" y="1334" width="107" height="27"/><text class="gt" x="1016.5" y="1352.3">BBC3</text></g>
<g id="C-c3-BCL2L11"><rect class="g4" x="963" y="1361" width="53.5" height="27"/><rect class="p3" x="1016.5" y="1361" width="53.5" height="27"/><rect class="box" x="963" y="1361" width="107" height="27"/><text class="gt" x="1016.5" y="1379.3">BCL2L11</text></g>
<g id="C-c3-DDIT3"><rect class="g2" x="963" y="1388" width="53.5" height="27"/><rect class="g1" x="1016.5" y="1388" width="53.5" height="27"/><rect class="box" x="963" y="1388" width="107" height="27"/><text class="gt" x="1016.5" y="1406.3">DDIT3</text></g>
<g id="C-c3-PPP1R15A"><rect class="r2" x="963" y="1415" width="53.5" height="27"/><rect class="r3" x="1016.5" y="1415" width="53.5" height="27"/><rect class="box" x="963" y="1415" width="107" height="27"/><text class="gt" x="1016.5" y="1433.3">PPP1R15A</text></g>
<g id="C-c3-TRIB3"><rect class="g2" x="963" y="1442" width="53.5" height="27"/><rect class="g8" x="1016.5" y="1442" width="53.5" height="27"/><rect class="box" x="963" y="1442" width="107" height="27"/><text class="gt" x="1016.5" y="1460.3">TRIB3</text></g>

<g id="C-c4-HSPA5"><rect class="g7" x="1103" y="1307" width="54" height="27"/><rect class="g4" x="1157" y="1307" width="54" height="27"/><rect class="box" x="1103" y="1307" width="108" height="27"/><text class="gt" x="1157" y="1325.3">HSPA5</text></g>
<g id="C-c4-HSP90B1"><rect class="g2" x="1103" y="1334" width="54" height="27"/><rect class="g6" x="1157" y="1334" width="54" height="27"/><rect class="box" x="1103" y="1334" width="108" height="27"/><text class="gt" x="1157" y="1352.3">HSP90B1</text></g>
<g id="C-c4-CALR"><rect class="g6" x="1103" y="1361" width="54" height="27"/><rect class="w2" x="1157" y="1361" width="54" height="27"/><rect class="box" x="1103" y="1361" width="108" height="27"/><text class="gt" x="1157" y="1379.3">CALR</text></g>
<g id="C-c4-XBP1"><rect class="p2" x="1103" y="1388" width="54" height="13.5"/><rect class="w" x="1103" y="1401.5" width="54" height="13.5"/><rect class="g7" x="1157" y="1388" width="54" height="13.5"/><rect class="g4" x="1157" y="1401.5" width="54" height="13.5"/><rect class="box" x="1103" y="1388" width="108" height="27"/><text class="gt" x="1157" y="1406.3">XBP1</text></g>
<g id="C-c4-ERP27"><rect class="r1" x="1103" y="1415" width="54" height="27"/><rect class="g6" x="1157" y="1415" width="54" height="27"/><rect class="box" x="1103" y="1415" width="108" height="27"/><text class="gt" x="1157" y="1433.3">ERP27</text></g>
<g id="C-c4-DDIT3"><rect class="g2" x="1103" y="1442" width="54" height="27"/><rect class="g1" x="1157" y="1442" width="54" height="27"/><rect class="box" x="1103" y="1442" width="108" height="27"/><text class="gt" x="1157" y="1460.3">DDIT3</text></g>

<g id="C-legend">
<text class="lgt" x="1157" y="1498">Log<tspan font-size="9" dy="3">2</tspan><tspan dy="-3"> fold-change</tspan></text>
<rect x="1103" y="1503" width="108" height="27" fill="url(#lfc)" stroke="#231f20" stroke-width="1.4"/>
<path d="M1103,1530 V1536 M1157,1530 V1536 M1211,1530 V1536" stroke="#231f20" stroke-width="1.4"/>
<text class="tk" x="1103" y="1552">-1.0</text><text class="tk" x="1157" y="1552">0.0</text><text class="tk" x="1211" y="1552">1.0</text>
<rect class="gy" x="1036" y="1568" width="28" height="27" stroke="#231f20" stroke-width="1.4"/>
<text class="nd" x="1077" y="1585">No data found</text>
<rect x="712" y="1569" width="54" height="27" fill="#fff" stroke="#231f20" stroke-width="1.4"/><rect x="766" y="1569" width="54" height="27" fill="#fff" stroke="#231f20" stroke-width="1.4"/>
<text class="itl" x="739" y="1587.5">ITL 50</text><text class="itl" x="793" y="1587.5">ITL 500</text>
</g>
</svg>
